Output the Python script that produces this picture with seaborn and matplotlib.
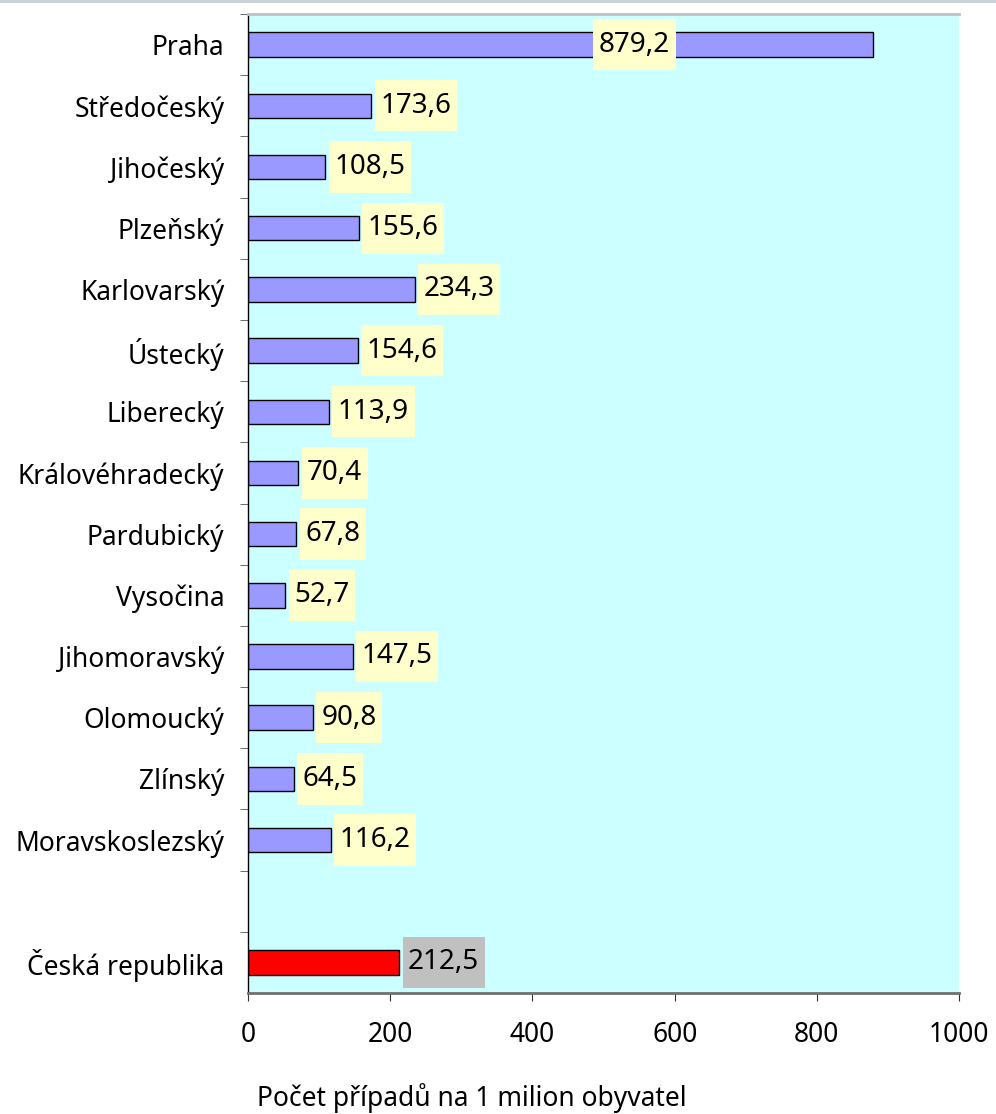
import numpy as np
import pandas as pd
import matplotlib.pyplot as plt
import seaborn as sns
from matplotlib.path import Path
from matplotlib.lines import Line2D

kraje = ["Praha", "Středočeský", "Jihočeský", "Plzeňský", "Karlovarský",
         "Ústecký", "Liberecký", "Královéhradecký", "Pardubický", "Vysočina",
         "Jihomoravský", "Olomoucký", "Zlínský", "Moravskoslezský"]
hodnoty = [879.2, 173.6, 108.5, 155.6, 234.3, 154.6, 113.9, 70.4, 67.8, 52.7,
           147.5, 90.8, 64.5, 116.2]
cr_nazev = "Česká republika"
cr_hodnota = 212.5
x_ticks = [0, 200, 400, 600, 800, 1000]
x_popisek = "Počet případů na 1 milion obyvatel"

df = pd.DataFrame({"kraj": kraje + [cr_nazev], "pocet": hodnoty + [cr_hodnota]})
mezera = " "
order = kraje + [mezera, cr_nazev]
palette = {k: "#9999FF" for k in kraje}
palette[cr_nazev] = "#FF0000"

plt.rcParams['font.family'] = ['Noto Sans', 'DejaVu Sans']
FS = 19

fig = plt.figure(figsize=(9.96, 11.14), dpi=100)
ax = fig.add_axes([0.249, 0.1086, 0.714, 0.8788])
ax.set_facecolor("#CCFFFF")

sns.barplot(data=df, x="pocet", y="kraj", hue="kraj", order=order,
            palette=palette, legend=False, width=0.4, saturation=1,
            edgecolor="black", linewidth=1, ax=ax)


def label_box(x0, y0, width, height, mutation_size):
    # wider vertical padding, like the Excel data labels
    px = 0.2 * mutation_size
    py = 0.42 * mutation_size
    pts = [(x0 - px, y0 - py), (x0 + width + px, y0 - py),
           (x0 + width + px, y0 + height + py), (x0 - px, y0 + height + py),
           (x0 - px, y0 - py)]
    return Path(pts, closed=True)


for kraj, v in zip(df["kraj"], df["pocet"]):
    pos = order.index(kraj)
    face = "#C0C0C0" if kraj == cr_nazev else "#FFFFCC"
    txt = f"{v:.1f}".replace(".", ",")
    if v > 800:
        ax.annotate(txt, (v, pos), xytext=(-203, 0), textcoords="offset pixels",
                    ha="right", va="center", fontsize=FS + 1,
                    bbox=dict(boxstyle=label_box, fc=face, ec="none"))
    else:
        ax.annotate(txt, (v, pos), xytext=(9, 0), textcoords="offset pixels",
                    ha="left", va="center", fontsize=FS + 1,
                    bbox=dict(boxstyle=label_box, fc=face, ec="none"))

ax.set_xlim(0, 1000)
ax.set_ylim(len(order) - 0.5, -0.5)
ax.set_xticks(x_ticks)
ax.set_xticklabels([str(t) for t in x_ticks], fontsize=FS)
ax.set_yticks(range(len(order)))
ax.set_yticklabels(order, fontsize=FS)
ax.set_yticks(np.arange(-0.5, len(order) - 0.5, 1), minor=True)
ax.tick_params(axis="y", which="major", length=0, pad=17)
ax.tick_params(axis="y", which="minor", length=6, color="#555555", direction="out")
ax.tick_params(axis="x", length=6, color="#333333", direction="out", pad=14)
ax.set_xlabel("")
ax.set_ylabel("")
ax.grid(False)

ax.spines["right"].set_visible(False)
ax.spines["top"].set_color("#C0C0C0")
ax.spines["top"].set_linewidth(2)
ax.spines["bottom"].set_color("#707070")
ax.spines["bottom"].set_linewidth(2)
ax.spines["left"].set_color("black")
ax.spines["left"].set_linewidth(1)

fig.text(0.474, 0.0145, x_popisek, ha="center", va="center", fontsize=FS)
fig.add_artist(Line2D([0, 1], [0.9992, 0.9992], transform=fig.transFigure,
                      color="#C8D0D8", lw=2))

fig.savefig("out.png", dpi=100, facecolor="white")
